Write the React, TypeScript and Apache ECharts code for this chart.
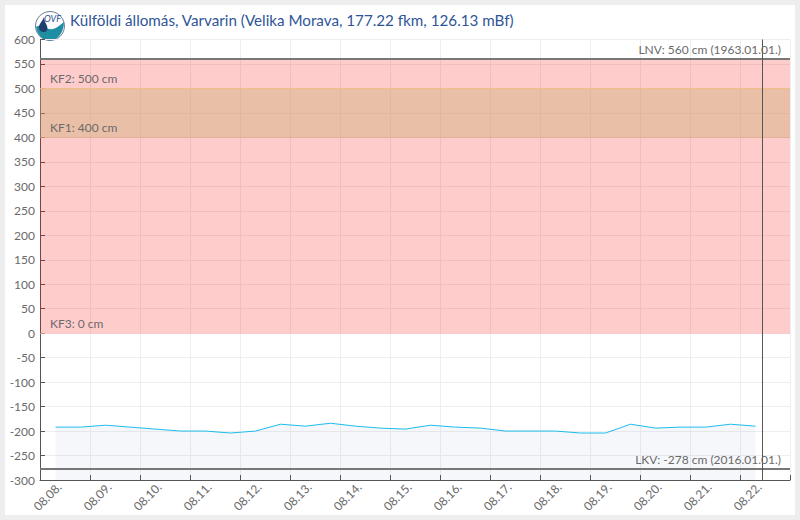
import React, { useEffect, useRef } from "react";
import * as echarts from "echarts";

const titleText = "Külföldi állomás, Varvarin (Velika Morava, 177.22 fkm, 126.13 mBf)";
const dayTicks = [8, 9, 10, 11, 12, 13, 14, 15, 16, 17, 18, 19, 20, 21, 22];
const pointDays = [
  8.31, 8.81, 9.31, 9.81, 10.31, 10.81, 11.31, 11.81, 12.31, 12.81, 13.31, 13.81, 14.31, 14.81, 15.31,
  15.81, 16.31, 16.81, 17.31, 17.81, 18.31, 18.81, 19.31, 19.81, 20.31, 20.81, 21.31, 21.81, 22.31,
];
const levels = [
  -192, -192, -188, -192, -196, -200, -200, -204, -200, -186, -190, -184, -190, -194, -196,
  -188, -192, -194, -200, -200, -200, -204, -204, -186, -194, -192, -192, -186, -190,
];
const nowDay = 22.44;
const yMin = -300;
const yMax = 600;
const redBand = [0, 560];
const orangeBand = [400, 500];
const records = [
  { value: 560, text: "LNV: 560 cm (1963.01.01.)" },
  { value: -278, text: "LKV: -278 cm (2016.01.01.)" },
];
const floods = [
  { value: 500, text: "KF2: 500 cm", color: "rgba(240,190,130,0.9)" },
  { value: 400, text: "KF1: 400 cm", color: "rgba(220,170,140,0.6)" },
  { value: 0, text: "KF3: 0 cm", color: "rgba(255,190,190,0.6)" },
];

const FONT = "Lato, 'Open Sans', sans-serif";
const LABEL = "#6a6a6a";

echarts.graphic.registerShape(
  "ovfWave",
  echarts.graphic.extendPath(
    "M36 27 C42 23 47 31 53 29 C57 28 60 25 64 22 C64 32 58 40.5 50 40.5 C42 40.5 37 34 36 27 Z",
    {}
  )
);
echarts.graphic.registerShape(
  "ovfDrop",
  echarts.graphic.extendPath("M44 17 C42 22 39 24 39 27 C39 30 41 32 44 32 C47 32 48 29 47 26 C46 23 44 21 44 17 Z", {})
);

export default function App() {
  const ref = useRef<HTMLDivElement>(null);
  useEffect(() => {
    const chart = echarts.init(ref.current!, null, { renderer: "svg" });
    chart.setOption({
      animation: false,
      textStyle: { fontFamily: FONT },
      title: {
        text: titleText,
        left: 70,
        top: 12,
        padding: 0,
        textStyle: { color: "#2f5597", fontSize: 15.2, fontWeight: "normal", fontFamily: FONT },
      },
      grid: { left: 40, right: 10, top: 39.5, bottom: 40 },
      xAxis: {
        type: "value",
        min: 8,
        max: 23,
        interval: 1,
        axisLine: { onZero: false, lineStyle: { color: "#555", width: 1 } },
        axisTick: { show: true, inside: true, length: 5, lineStyle: { color: "#555" } },
        splitLine: { show: true, lineStyle: { color: "#eeeeee", width: 1 } },
        axisLabel: {
          color: LABEL,
          fontSize: 12,
          rotate: 45,
          align: "center",
          verticalAlign: "middle",
          margin: 24,
          padding: [21, 0, 0, 21],
          showMinLabel: true,
          showMaxLabel: true,
          hideOverlap: false,
          formatter: (v: number) =>
            dayTicks.includes(v) ? `08.${String(v).padStart(2, "0")}.` : "",
        },
      },
      yAxis: {
        type: "value",
        min: yMin,
        max: yMax,
        interval: 50,
        axisLine: { show: true, onZero: false, lineStyle: { color: "#555", width: 1 } },
        axisTick: { show: true, inside: true, length: 5, lineStyle: { color: "#555" } },
        splitLine: { show: true, lineStyle: { color: "#eeeeee", width: 1 } },
        axisLabel: { color: LABEL, fontSize: 12, margin: 5, padding: [0, 0, 2, 0] },
      },
      series: [
        {
          type: "line",
          silent: true,
          symbol: "none",
          data: pointDays.map((d, i) => [d, levels[i]]),
          lineStyle: { color: "#1dbcec", width: 1 },
          areaStyle: { color: "rgba(110,125,170,0.09)", origin: "start" },
          markArea: {
            silent: true,
            itemStyle: { color: "rgba(255,0,0,0.2)" },
            data: [
              [{ yAxis: redBand[0] }, { yAxis: redBand[1] }],
              [
                { yAxis: orangeBand[0], itemStyle: { color: "rgba(198,172,109,0.38)" } },
                { yAxis: orangeBand[1] },
              ],
            ],
          },
          markLine: {
            silent: true,
            symbol: "none",
            precision: 2,
            data: [
              ...floods.map((f) => ({
                yAxis: f.value,
                lineStyle: { color: f.color, width: 1, type: "solid" },
                label: {
                  show: true,
                  formatter: f.text,
                  position: "insideStartTop",
                  distance: [10, 3.5],
                  color: LABEL,
                  fontSize: 12,
                },
              })),
              ...records.map((r) => ({
                yAxis: r.value,
                lineStyle: { color: "#777", width: 2, type: "solid" },
                label: {
                  show: true,
                  formatter: r.text,
                  position: "insideEndTop",
                  distance: [9, 3.5],
                  color: LABEL,
                  fontSize: 12,
                },
              })),
              {
                xAxis: nowDay,
                lineStyle: { color: "#555", width: 1, type: "solid" },
                label: { show: false },
              },
            ],
          },
        },
      ],
      graphic: [
        {
          type: "group",
          silent: true,
          children: [
            {
              type: "circle",
              shape: { cx: 50, cy: 26, r: 14.5 },
              style: { fill: "#ffffff", stroke: "#6a7a99", lineWidth: 1 },
            },
            { type: "ovfWave", style: { fill: "#1f8ea3" } },
            { type: "ovfDrop", style: { fill: "#1d3f6e" } },
            {
              type: "text",
              x: 44,
              y: 14,
              style: { text: "OVF", fill: "#2b4f91", font: "italic 9px Lato, sans-serif" },
            },
          ],
        },
      ],
    });
    return () => chart.dispose();
  }, []);

  return (
    <div style={{ position: "fixed", left: 0, top: 0, width: 800, height: 520, background: "#eeeeee" }}>
      <div style={{ position: "absolute", left: 5, top: 5, width: 790, height: 510, background: "#ffffff" }} />
      <div ref={ref} style={{ position: "absolute", left: 0, top: 0, width: 800, height: 520 }} />
    </div>
  );
}
